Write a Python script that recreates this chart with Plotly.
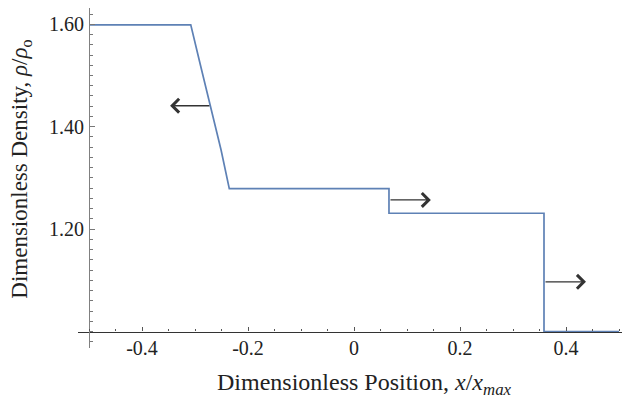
import plotly.graph_objects as go

# Density profile (Riemann problem)
position = [-0.5, -0.308, -0.2906, -0.2704, -0.2509, -0.2353, 0.066, 0.066, 0.3585, 0.3585, 0.5]
density = [1.599, 1.599, 1.524, 1.440, 1.355, 1.279, 1.279, 1.231, 1.231, 1.0, 1.0]

# Wave-direction arrows: (tail x, head x, y)
arrow_tail_x = [-0.270, 0.066, 0.3585]
arrow_head_x = [-0.347, 0.145, 0.4377]
arrow_y = [1.441, 1.257, 1.097]

x_tickvals = [-0.4, -0.2, 0, 0.2, 0.4]
x_ticktext = ["-0.4", "-0.2", "0", "0.2", "0.4"]
y_tickvals = [1.2, 1.4, 1.6]
y_ticktext = ["1.20", "1.40", "1.60"]

xr = [-0.52075, 0.50566]
yr = [0.9678, 1.6318]
x_origin = -0.5
y_origin = 1.0

font_family = "Liberation Serif"

fig = go.Figure()
fig.add_trace(go.Scatter(x=position, y=density, mode="lines",
                         line=dict(color="#5E81B5", width=1.7),
                         hoverinfo="skip", showlegend=False))

for tx, hx, ay in zip(arrow_tail_x, arrow_head_x, arrow_y):
    fig.add_annotation(x=hx, y=ay, ax=tx, ay=ay, xref="x", yref="y",
                       axref="x", ayref="y", showarrow=True, text="",
                       arrowhead=4, arrowsize=1.9, arrowwidth=1.4,
                       arrowcolor="#333333", standoff=0)

fig.update_layout(
    width=623, height=404, autosize=False,
    margin=dict(l=78, r=1, t=8, b=56),
    plot_bgcolor="white", paper_bgcolor="white",
    font=dict(family=font_family, size=20, color="#222222"),
    xaxis=dict(range=xr, showgrid=False, zeroline=False, showline=True,
               linecolor="#333333", linewidth=1.2,
               anchor="free", position=(y_origin - yr[0]) / (yr[1] - yr[0]),
               ticks="inside", ticklen=4, tickwidth=1, tickcolor="#555555",
               tickvals=x_tickvals, ticktext=x_ticktext,
               ticklabelstandoff=-2,
               tickfont=dict(family=font_family, size=20, color="#222222"),
               minor=dict(dtick=0.05, tick0=0, ticks="inside", ticklen=2.5,
                          tickcolor="#555555", showgrid=False)),
    yaxis=dict(range=yr, showgrid=False, zeroline=False, showline=True,
               linecolor="#808080", linewidth=1.2,
               anchor="free", position=(x_origin - xr[0]) / (xr[1] - xr[0]),
               ticks="inside", ticklen=4.5, tickwidth=1, tickcolor="#777777",
               tickvals=y_tickvals, ticktext=y_ticktext,
               ticklabelstandoff=1,
               tickfont=dict(family=font_family, size=20, color="#222222"),
               minor=dict(dtick=0.02, tick0=1.0, ticks="inside", ticklen=2.5,
                          tickcolor="#777777", showgrid=False)),
)

fig.add_annotation(text="Dimensionless Position, <i>x</i>/<i>x</i><sub><i>max</i></sub>",
                   xref="paper", yref="paper", x=0.527, y=-0.105,
                   xanchor="center", yanchor="middle", showarrow=False,
                   font=dict(family=font_family, size=24, color="#222222"))
fig.add_annotation(text="Dimensionless Density, <i>ρ</i>/<i>ρ</i><sub>o</sub>",
                   xref="paper", yref="paper", x=-0.105, y=0.527,
                   xanchor="center", yanchor="middle", textangle=-90,
                   showarrow=False,
                   font=dict(family=font_family, size=23, color="#222222"))

fig.write_html("out.html")
